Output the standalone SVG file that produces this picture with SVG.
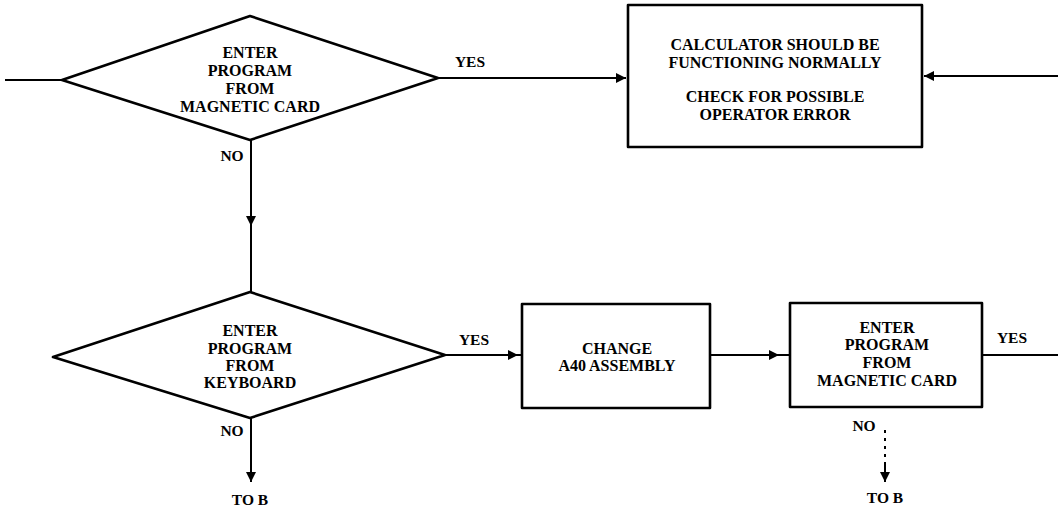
<svg xmlns="http://www.w3.org/2000/svg" width="1058" height="512" viewBox="0 0 1058 512">
<style>
.shape{fill:none;stroke:#000;stroke-width:2.6;stroke-linejoin:round}
.conn{fill:none;stroke:#000;stroke-width:2}
.dot{fill:none;stroke:#000;stroke-width:2;stroke-dasharray:3 5}
.t{font-family:"Liberation Serif",serif;font-weight:bold;font-size:16px;text-anchor:middle;fill:#000}
.l{font-family:"Liberation Serif",serif;font-weight:bold;font-size:15.5px;text-anchor:middle;fill:#000}
</style>
<defs>
<marker id="ah" viewBox="0 0 10 10" refX="10" refY="5" markerWidth="16" markerHeight="10" markerUnits="userSpaceOnUse" orient="auto">
<path d="M0,0 L10,5 L0,10 z" fill="#000"/>
</marker>
</defs>
<rect width="1058" height="512" fill="#fff"/>
<g id="connectors">
<path class="conn" d="M5,80 H62"/>
<path class="conn" d="M438,78 H626" marker-end="url(#ah)"/>
<path class="conn" d="M1058,76 H924" marker-end="url(#ah)"/>
<path class="conn" d="M251,140 V226" marker-end="url(#ah)"/>
<path class="conn" d="M251,224 V292"/>
<path class="conn" d="M445,355 H518" marker-end="url(#ah)"/>
<path class="conn" d="M516,355 H522"/>
<path class="conn" d="M710,355 H779" marker-end="url(#ah)"/>
<path class="conn" d="M777,355 H790"/>
<path class="conn" d="M982,355 H1058"/>
<path class="conn" d="M251,418 V482" marker-end="url(#ah)"/>
<path class="dot" d="M885,430 V462"/>
<path class="conn" d="M885,462 V482" marker-end="url(#ah)"/>
</g>
<g id="decision1">
<polygon class="shape" points="62,80 250,16 438,78 250,140"/>
<text class="t" x="250" y="58">ENTER</text>
<text class="t" x="250" y="76">PROGRAM</text>
<text class="t" x="250" y="94">FROM</text>
<text class="t" x="250" y="112">MAGNETIC CARD</text>
</g>
<g id="box1">
<rect class="shape" x="628" y="5" width="294" height="142"/>
<text class="t" x="775" y="50">CALCULATOR SHOULD BE</text>
<text class="t" x="775" y="68">FUNCTIONING NORMALLY</text>
<text class="t" x="775" y="102">CHECK FOR POSSIBLE</text>
<text class="t" x="775" y="120">OPERATOR ERROR</text>
</g>
<g id="decision2">
<polygon class="shape" points="53,357 250,292 445,355 250,418"/>
<text class="t" x="250" y="336">ENTER</text>
<text class="t" x="250" y="354">PROGRAM</text>
<text class="t" x="250" y="371">FROM</text>
<text class="t" x="250" y="388">KEYBOARD</text>
</g>
<g id="box2">
<rect class="shape" x="522" y="304" width="188" height="104"/>
<text class="t" x="617" y="354">CHANGE</text>
<text class="t" x="617" y="371">A40 ASSEMBLY</text>
</g>
<g id="box3">
<rect class="shape" x="790" y="303" width="192" height="104"/>
<text class="t" x="887" y="333">ENTER</text>
<text class="t" x="887" y="350">PROGRAM</text>
<text class="t" x="887" y="368">FROM</text>
<text class="t" x="887" y="386">MAGNETIC CARD</text>
</g>
<g id="labels">
<text class="l" x="470" y="67">YES</text>
<text class="l" x="232" y="161">NO</text>
<text class="l" x="474" y="345">YES</text>
<text class="l" x="232" y="436">NO</text>
<text class="l" x="250" y="505">TO B</text>
<text class="l" x="1012" y="343">YES</text>
<text class="l" x="864" y="431">NO</text>
<text class="l" x="885" y="503">TO B</text>
</g>
</svg>
